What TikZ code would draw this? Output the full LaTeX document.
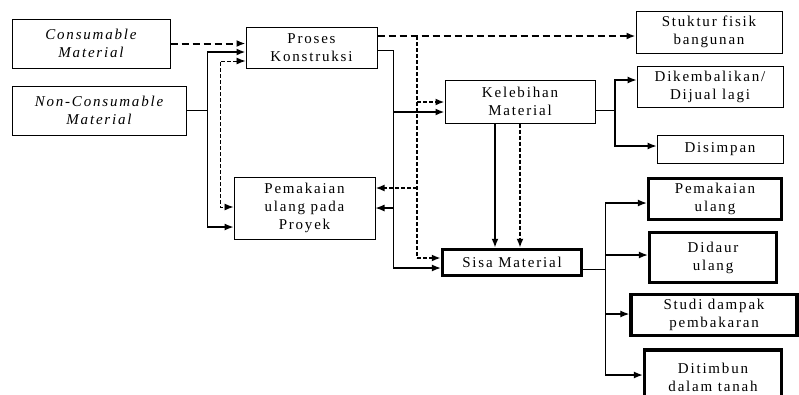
\documentclass[tikz,border=0pt]{standalone}
\usepackage{fontspec}
\setmainfont{Liberation Serif}[LetterSpace=12]
\usetikzlibrary{arrows.meta}
\begin{document}
\begin{tikzpicture}[x=1pt,y=-1pt,
  box/.style={draw,line width=1pt,align=center,inner sep=0pt,font=\fontsize{15}{18}\selectfont},
  tbox/.style={box,line width=3.5pt},
  tip/.style={-{Latex[length=9pt,width=7pt]}},
  thinline/.style={line width=0.9pt},
  solarr/.style={tip,line width=1.8pt},
  solarrthin/.style={tip,line width=1.2pt},
  dasharr/.style={tip,line width=2pt,dash pattern=on 7pt off 4pt},
  dotline/.style={line width=2pt,dash pattern=on 4pt off 2pt},
  dotarr/.style={tip,dotline},
  thindash/.style={line width=0.9pt,dash pattern=on 4pt off 2pt}
]
\useasboundingbox (0,0) rectangle (799,394);
% boxes
\node[box,minimum width=158,minimum height=49] (cons) at (91,43.5) {\itshape Consumable\\\itshape Material};
\node[box,minimum width=174,minimum height=49] (noncons) at (99,110.5) {\itshape Non-Consumable\\\itshape Material};
\node[box,minimum width=131,minimum height=41] (proses) at (311.5,47.5) {Proses\\Konstruksi};
\node[box,minimum width=146,minimum height=42] (stuktur) at (709,32) {Stuktur fisik\\bangunan};
\node[box,minimum width=150,minimum height=43] (kel) at (520,101.5) {Kelebihan\\Material};
\node[box,minimum width=146,minimum height=41] (dikem) at (710,86.5) {Dikembalikan/\\Dijual lagi};
\node[box,minimum width=126,minimum height=28] (dis) at (720,149) {Disimpan};
\node[box,minimum width=141,minimum height=62] (pemak) at (304.5,208) {Pemakaian\\ulang pada\\Proyek};
\node[tbox,minimum width=139,minimum height=26] (sisa) at (512,262.5) {Sisa Material};
\node[tbox,minimum width=133,minimum height=41] (pu) at (715,199) {Pemakaian\\ulang};
\node[tbox,minimum width=127,minimum height=50] (daur) at (713,257.5) {Didaur\\ulang};
\node[tbox,minimum width=166,minimum height=41] (studi) at (714,315) {Studi dampak\\pembakaran};
\node[tbox,minimum width=137,minimum height=54] (timbun) at (713,377) {Ditimbun\\dalam tanah};
% junction coordinates
\coordinate (r1) at (207,52);
\coordinate (r2) at (207,227);
\coordinate (d1) at (220,61);
\coordinate (d2) at (220,207);
\coordinate (e1) at (393,50);
\coordinate (e2) at (393,112);
\coordinate (e3) at (393,208);
\coordinate (e4) at (393,268);
\coordinate (f1) at (417,36);
\coordinate (f2) at (417,102);
\coordinate (f3) at (417,188);
\coordinate (f4) at (417,258);
\coordinate (g1) at (495,0);
\coordinate (g2) at (520,0);
\coordinate (k0) at (615,110);
\coordinate (k1) at (615,80);
\coordinate (k2) at (615,146);
\coordinate (s0) at (605,269);
\coordinate (s1) at (605,203);
\coordinate (s2) at (605,255);
\coordinate (s3) at (605,314);
\coordinate (s4) at (605,375);
% connectors
\draw[dasharr] (cons.east) -- (cons.east -| proses.west);
\draw[thinline] (noncons.east) -- (noncons.east -| r1);
\draw[thinline] (r1) -- (r2);
\draw[solarr] (r1) -- (r1 -| proses.west);
\draw[solarrthin] (r2) -- (r2 -| pemak.west);
\draw[thindash,{Latex[length=9pt,width=7pt]}-{Latex[length=9pt,width=7pt]}] (d1 -| proses.west) -- (d1) -- (d2) -- (d2 -| pemak.west);
\draw[thinline] (e1 -| proses.east) -- (e1) -- (e4);
\draw[solarr] (e2) -- (e2 -| kel.west);
\draw[solarrthin] (e3) -- (e3 -| pemak.east);
\draw[solarrthin] (e4) -- (e4 -| sisa.west);
\draw[dasharr] (f1 -| proses.east) -- (f1 -| stuktur.west);
\draw[dotline] (f1) -- (f4);
\draw[dotarr] (f2) -- (f2 -| kel.west);
\draw[dotarr] (f3) -- (f3 -| pemak.east);
\draw[dotarr] (f4) -- (f4 -| sisa.west);
\draw[solarr] (g1 |- kel.south) -- (g1 |- sisa.north);
\draw[dotarr] (g2 |- kel.south) -- (g2 |- sisa.north);
\draw[thinline] (k0 -| kel.east) -- (k0);
\draw[solarrthin] (k0) -- (k1) -- (k1 -| dikem.west);
\draw[solarrthin] (k0) -- (k2) -- (k2 -| dis.west);
\draw[thinline] (s0 -| sisa.east) -- (s0);
\draw[thinline] (s1) -- (s4);
\draw[solarrthin] (s1) -- (s1 -| pu.west);
\draw[solarrthin] (s2) -- (s2 -| daur.west);
\draw[solarrthin] (s3) -- (s3 -| studi.west);
\draw[solarrthin] (s4) -- (s4 -| timbun.west);
\end{tikzpicture}
\end{document}
